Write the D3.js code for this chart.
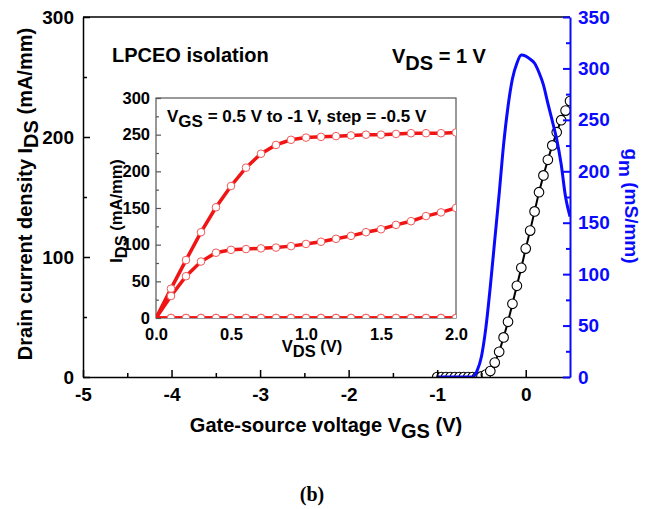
<!DOCTYPE html>
<html>
<head>
<meta charset="utf-8">
<script src="https://cdn.jsdelivr.net/npm/d3@7"></script>
<style>
body { margin: 0; background: #fff; }
svg text { font-family: "Liberation Sans", Arial, sans-serif; font-weight: bold; }
</style>
</head>
<body>
<div id="chart"></div>
<script>
const W = 655, H = 509;

// transfer curve at VDS = 1 V
const VGS = [-1.0, -0.95, -0.9, -0.85, -0.8, -0.75, -0.7, -0.65, -0.6, -0.55, -0.5,
  -0.45, -0.4, -0.35, -0.3, -0.25, -0.2, -0.15, -0.1, -0.05, 0,
  0.05, 0.1, 0.15, 0.2, 0.25, 0.3, 0.35, 0.4, 0.45, 0.5];
const IDS = [0, 0, 0, 0, 0, 0, 0, 0, 0, 0, 0.5,
  2, 5, 12, 21, 33, 46, 61, 76, 91, 107,
  122, 138, 154, 168, 181, 193, 204, 214, 222, 230];
const GM = [0, 0, 0, 0, 0, 0, 0, 0, 0, 6, 20,
  48, 88, 133, 178, 226, 263, 290, 305, 313, 312,
  309, 305, 296, 284, 266, 249, 231, 207, 175, 156];

// inset: output curves, VGS = 0.5 V to -1 V
const VDS = [0, 0.1, 0.2, 0.3, 0.4, 0.5, 0.6, 0.7, 0.8, 0.9, 1.0,
  1.1, 1.2, 1.3, 1.4, 1.5, 1.6, 1.7, 1.8, 1.9, 2.0];
const ID_P05 = [0, 40, 79, 117, 151, 180, 205, 224, 236, 243, 246,
  247, 248, 249, 250, 250, 251, 252, 252, 252, 253];
const ID_0 = [0, 30, 57, 77, 89, 93, 94, 95, 96, 98, 101,
  104, 108, 112, 117, 121, 127, 132, 139, 144, 150];
const ID_M05 = [0, 0, 0, 0, 0, 0, 0, 0, 0, 0, 0, 0, 0, 0, 0, 0, 0, 0, 0, 0, 0];
const ID_M1 = [0, 0, 0, 0, 0, 0, 0, 0, 0, 0, 0, 0, 0, 0, 0, 0, 0, 0, 0, 0, 0];

const X_TICKS = [-5, -4, -3, -2, -1, 0];
const X_MINOR = [-4.5, -3.5, -2.5, -1.5, -0.5];
const YL_TICKS = [0, 100, 200, 300];
const YL_MINOR = [50, 150, 250];
const YR_TICKS = [0, 50, 100, 150, 200, 250, 300, 350];
const YR_MINOR = [25, 75, 125, 175, 225, 275, 325];
const IX_TICKS = [0, 0.5, 1.0, 1.5, 2.0];
const IY_TICKS = [0, 50, 100, 150, 200, 250, 300];
const IY_MINOR = [25, 75, 125, 175, 225, 275];

const RED = "#f01414", BLUE = "#0a0aff";

var svg = d3.select("#chart").append("svg")
  .attr("width", W).attr("height", H);
svg.append("rect").attr("width", W).attr("height", H).attr("fill", "#fff");

var x = d3.scaleLinear().domain([-5, 0.5]).range([83, 570]);
var yL = d3.scaleLinear().domain([0, 300]).range([377, 17]);
var yR = d3.scaleLinear().domain([0, 350]).range([377, 17]);

var ix = d3.scaleLinear().domain([0, 2]).range([156, 456]);
var iy = d3.scaleLinear().domain([0, 300]).range([318, 98]);

var defs = svg.append("defs");
defs.append("clipPath").attr("id", "clipMain").append("rect")
  .attr("x", 83).attr("y", 17).attr("width", 487).attr("height", 360);
defs.append("clipPath").attr("id", "clipInset").append("rect")
  .attr("x", 156).attr("y", 98).attr("width", 300).attr("height", 220);

// styles an axis group: stroke, font
function styleAxis(g, color, width, size) {
  g.attr("font-family", null).attr("font-size", size).attr("fill", color);
  g.selectAll("path, line").attr("stroke", color).attr("stroke-width", width);
  g.selectAll("text").attr("fill", color);
}

// ---- main plot curves ----
var trans = VGS.map((v, i) => ({v: v, i: IDS[i], g: GM[i]}));

var plot = svg.append("g").attr("clip-path", "url(#clipMain)");

plot.append("path")
  .datum(trans)
  .attr("fill", "none").attr("stroke", "#000").attr("stroke-width", 2)
  .attr("d", d3.line().x(d => x(d.v)).y(d => yL(d.i)));

plot.selectAll("circle.t").data(trans).join("circle")
  .attr("class", "t")
  .attr("cx", d => x(d.v)).attr("cy", d => yL(d.i)).attr("r", 4.8)
  .attr("fill", "#fff").attr("stroke", "#000").attr("stroke-width", 1.1);

plot.append("path")
  .datum(trans)
  .attr("fill", "none").attr("stroke", BLUE).attr("stroke-width", 3)
  .attr("d", d3.line().curve(d3.curveMonotoneX).x(d => x(d.v)).y(d => yR(d.g)));

// ---- main axes ----
svg.append("line").attr("x1", 83).attr("x2", 570).attr("y1", 17).attr("y2", 17)
  .attr("stroke", "#000").attr("stroke-width", 1.5);

var gx = svg.append("g").attr("transform", "translate(0,377)")
  .call(d3.axisBottom(x).tickValues(X_TICKS).tickFormat(d => String(d))
    .tickSize(-7).tickPadding(11).tickSizeOuter(0));
styleAxis(gx, "#000", 1.5, 19);
var gxm = svg.append("g").attr("transform", "translate(0,377)")
  .call(d3.axisBottom(x).tickValues(X_MINOR).tickFormat("").tickSize(-4).tickSizeOuter(0));
gxm.select(".domain").remove();
styleAxis(gxm, "#000", 1.5, 19);

var gy = svg.append("g").attr("transform", "translate(83,0)")
  .call(d3.axisLeft(yL).tickValues(YL_TICKS).tickFormat(d => String(d))
    .tickSize(-7).tickPadding(9).tickSizeOuter(0));
styleAxis(gy, "#000", 1.5, 19);
var gym = svg.append("g").attr("transform", "translate(83,0)")
  .call(d3.axisLeft(yL).tickValues(YL_MINOR).tickFormat("").tickSize(-4).tickSizeOuter(0));
gym.select(".domain").remove();
styleAxis(gym, "#000", 1.5, 19);

var gr = svg.append("g").attr("transform", "translate(570,0)")
  .call(d3.axisRight(yR).tickValues(YR_TICKS).tickFormat(d => String(d))
    .tickSize(-7).tickPadding(8).tickSizeOuter(0));
styleAxis(gr, BLUE, 2, 19);
var grm = svg.append("g").attr("transform", "translate(570,0)")
  .call(d3.axisRight(yR).tickValues(YR_MINOR).tickFormat("").tickSize(-4).tickSizeOuter(0));
grm.select(".domain").remove();
styleAxis(grm, BLUE, 2, 19);

// ---- main titles ----
var yt = svg.append("text")
  .attr("transform", "translate(32,194) rotate(-90)")
  .attr("text-anchor", "middle").attr("font-size", 20).attr("fill", "#000");
yt.append("tspan").text("Drain current density I");
yt.append("tspan").attr("dy", 6).text("DS");
yt.append("tspan").attr("dy", -6).text(" (mA/mm)");

var rt = svg.append("text")
  .attr("transform", "translate(625,206) rotate(90)")
  .attr("text-anchor", "middle").attr("font-size", 19).attr("fill", BLUE);
rt.append("tspan").text("g");
rt.append("tspan").attr("dy", 6).text("m");
rt.append("tspan").attr("dy", -6).text(" (mS/mm)");

var xt = svg.append("text")
  .attr("x", 326).attr("y", 432)
  .attr("text-anchor", "middle").attr("font-size", 20).attr("fill", "#000");
xt.append("tspan").text("Gate-source voltage V");
xt.append("tspan").attr("dy", 6).text("GS");
xt.append("tspan").attr("dy", -6).text(" (V)");

svg.append("text").attr("x", 112).attr("y", 62)
  .attr("font-size", 20).attr("fill", "#000").text("LPCEO isolation");

var vds = svg.append("text").attr("x", 392).attr("y", 63)
  .attr("font-size", 20).attr("fill", "#000");
vds.append("tspan").text("V");
vds.append("tspan").attr("dy", 7).text("DS");
vds.append("tspan").attr("dy", -7).text(" = 1 V");

svg.append("text").attr("x", 312).attr("y", 501)
  .attr("text-anchor", "middle")
  .style("font-family", '"Liberation Serif", "Times New Roman", serif')
  .attr("font-size", 20).attr("fill", "#000").text("(b)");

// ---- inset ----
svg.append("rect").attr("x", 156).attr("y", 98).attr("width", 300).attr("height", 220)
  .attr("fill", "#fff").attr("stroke", "#555").attr("stroke-width", 1.2);

var series = [ID_P05, ID_0, ID_M05, ID_M1].map(arr => VDS.map((v, i) => ({v: v, i: arr[i]})));

var ins = svg.append("g").attr("clip-path", "url(#clipInset)");
var iline = d3.line().x(d => ix(d.v)).y(d => iy(d.i));

ins.selectAll("path.out").data(series).join("path")
  .attr("class", "out")
  .attr("fill", "none").attr("stroke", RED).attr("stroke-width", 3.5)
  .attr("d", iline);

series.forEach(s => {
  ins.append("g").selectAll("circle").data(s.filter(d => d.v > 0)).join("circle")
    .attr("cx", d => ix(d.v)).attr("cy", d => iy(d.i)).attr("r", 3.8)
    .attr("fill", "#fff").attr("stroke", "#f25a5a").attr("stroke-width", 1);
});

var gix = svg.append("g").attr("transform", "translate(0,318)")
  .call(d3.axisBottom(ix).tickValues(IX_TICKS).tickFormat(d => d.toFixed(1))
    .tickSize(0).tickPadding(10).tickSizeOuter(0));
gix.select(".domain").remove();
styleAxis(gix, "#000", 1.2, 16.5);

var giy = svg.append("g").attr("transform", "translate(156,0)")
  .call(d3.axisLeft(iy).tickValues(IY_TICKS).tickFormat(d => String(d))
    .tickSize(-5).tickPadding(6).tickSizeOuter(0));
giy.select(".domain").remove();
styleAxis(giy, "#000", 1.2, 16.5);
giy.selectAll("line").attr("stroke", "#555");
var giym = svg.append("g").attr("transform", "translate(156,0)")
  .call(d3.axisLeft(iy).tickValues(IY_MINOR).tickFormat("").tickSize(-3).tickSizeOuter(0));
giym.select(".domain").remove();
styleAxis(giym, "#555", 1.2, 16.5);

var iyt = svg.append("text")
  .attr("transform", "translate(122,211) rotate(-90)")
  .attr("text-anchor", "middle").attr("font-size", 16.5).attr("fill", "#000");
iyt.append("tspan").text("I");
iyt.append("tspan").attr("dy", 5).text("DS");
iyt.append("tspan").attr("dy", -5).text(" (mA/mm)");

var ixt = svg.append("text")
  .attr("x", 312).attr("y", 352)
  .attr("text-anchor", "middle").attr("font-size", 16.5).attr("fill", "#000");
ixt.append("tspan").text("V");
ixt.append("tspan").attr("dy", 5).text("DS");
ixt.append("tspan").attr("dy", -5).text(" (V)");

var it = svg.append("text").attr("x", 167).attr("y", 122)
  .attr("font-size", 17).attr("fill", "#000");
it.append("tspan").text("V");
it.append("tspan").attr("dy", 5).text("GS");
it.append("tspan").attr("dy", -5).text(" = 0.5 V to -1 V, step = -0.5 V");
</script>
</body>
</html>
